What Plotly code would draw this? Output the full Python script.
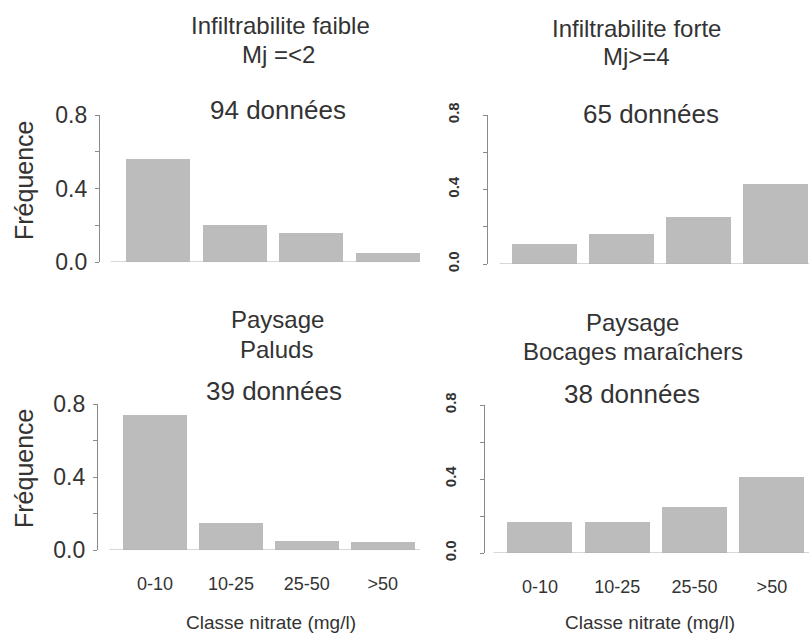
import plotly.graph_objects as go

W, H = 809, 638

categories = ["0-10", "10-25", "25-50", ">50"]
freq_faible = [0.56, 0.20, 0.16, 0.05]
freq_forte = [0.11, 0.16, 0.25, 0.43]
freq_paluds = [0.74, 0.15, 0.05, 0.045]
freq_bocages = [0.17, 0.17, 0.25, 0.41]

title_line1 = ["Infiltrabilite faible", "Infiltrabilite forte", "Paysage", "Paysage"]
title_line2 = ["Mj =<2", "Mj>=4", "Paluds", "Bocages maraîchers"]
counts = ["94 données", "65 données", "39 données", "38 données"]
y_ticks = [0.0, 0.4, 0.8]
y_ticktext = ["0.0", "0.4", "0.8"]
x_title = "Classe nitrate (mg/l)"
y_title = "Fréquence"

series = [freq_faible, freq_forte, freq_paluds, freq_bocages]

# layout in pixels: (y-axis x, right edge, y of 0.0, y of 0.8, x range, baseline start)
panels = [
    (100, 420, 262, 115, [-0.76, 3.42], -0.62),
    (488, 809, 264, 115, [-0.73, 3.43], -0.58),
    (98, 420, 550, 404, [-0.75, 3.49], -0.60),
    (485, 809, 553, 405, [-0.71, 3.48], -0.60),
]

TXT = "#333333"
FONT = "Liberation Sans, Arial, sans-serif"

fig = go.Figure()
shapes = []
for i, (vals, (xl, xr, y0, y8, xrng, bstart)) in enumerate(zip(series, panels)):
    n = i + 1
    xa = "x" if n == 1 else f"x{n}"
    ya = "y" if n == 1 else f"y{n}"
    fig.add_trace(go.Bar(
        x=list(range(len(categories))), y=vals, width=0.84,
        marker=dict(color="#bcbcbc", line=dict(width=0)),
        xaxis=xa, yaxis=ya, showlegend=False, hoverinfo="y",
    ))
    right = i % 2 == 1
    bottom = i >= 2
    xkey = "xaxis" if n == 1 else f"xaxis{n}"
    ykey = "yaxis" if n == 1 else f"yaxis{n}"
    fig.layout[xkey] = dict(
        domain=[xl / W, min(xr / W, 1)], range=xrng, anchor=ya,
        showline=False, showgrid=False, zeroline=False, automargin=False,
        tickvals=list(range(len(categories))), ticktext=categories,
        showticklabels=bottom, ticks="", ticklabelstandoff=21 if bottom else 0,
        tickfont=dict(family=FONT, size=18, color=TXT), fixedrange=True,
    )
    fig.layout[ykey] = dict(
        domain=[1 - y0 / H, 1 - y8 / H], range=[0, 0.8], anchor=xa,
        showline=True, linecolor="#8a8a8a", linewidth=1.2,
        showgrid=False, zeroline=False, automargin=False,
        tickvals=y_ticks, ticktext=y_ticktext, ticks="outside", ticklen=4,
        tickcolor="#8a8a8a", tickwidth=1,
        minor=dict(tickvals=[0.2, 0.6], ticks="outside", ticklen=4,
                   tickcolor="#8a8a8a", tickwidth=1, showgrid=False),
        tickangle=-90 if right else 0,
        ticklabelstandoff=18 if right else 3,
        tickfont=(dict(family=FONT, size=15, color=TXT, weight="bold") if right
                  else dict(family=FONT, size=23, color=TXT)),
        fixedrange=True,
    )
    shapes.append(dict(type="line", xref=xa, yref=ya, x0=bstart, x1=xrng[1],
                       y0=0, y1=0, line=dict(color="#b0b0b0", width=1.2)))

annotations = []
# (line1 x, y, line2 x, y, count x, y) in pixels
title_pos = [
    (280, 25, 278, 54, 278, 110),
    (636, 28, 636, 57, 651, 114),
    (277, 320, 276, 349, 274, 391),
    (632, 322, 633, 351, 632, 394),
]


def ann(text, x, y, size, angle=0):
    return dict(text=text, x=x / W, y=1 - y / H, xref="paper", yref="paper",
                showarrow=False, textangle=angle,
                font=dict(family=FONT, size=size, color=TXT),
                xanchor="center", yanchor="middle")


for l1, l2, c, (x1, y1, x2, y2, xc, yc) in zip(title_line1, title_line2, counts, title_pos):
    annotations.append(ann(l1, x1, y1, 24))
    annotations.append(ann(l2, x2, y2, 24))
    annotations.append(ann(c, xc, yc, 26))
for yc in (180, 468):
    annotations.append(ann(y_title, 24, yc, 25, -90))
for xc in (271, 650):
    annotations.append(ann(x_title, xc, 622, 19))

fig.update_layout(
    width=W, height=H, margin=dict(l=0, r=0, t=0, b=0, autoexpand=False),
    paper_bgcolor="white", plot_bgcolor="white",
    bargap=0, shapes=shapes, annotations=annotations,
)
fig.write_html("out.html", config={"displayModeBar": False},
               post_script="document.body.style.margin='0';")
